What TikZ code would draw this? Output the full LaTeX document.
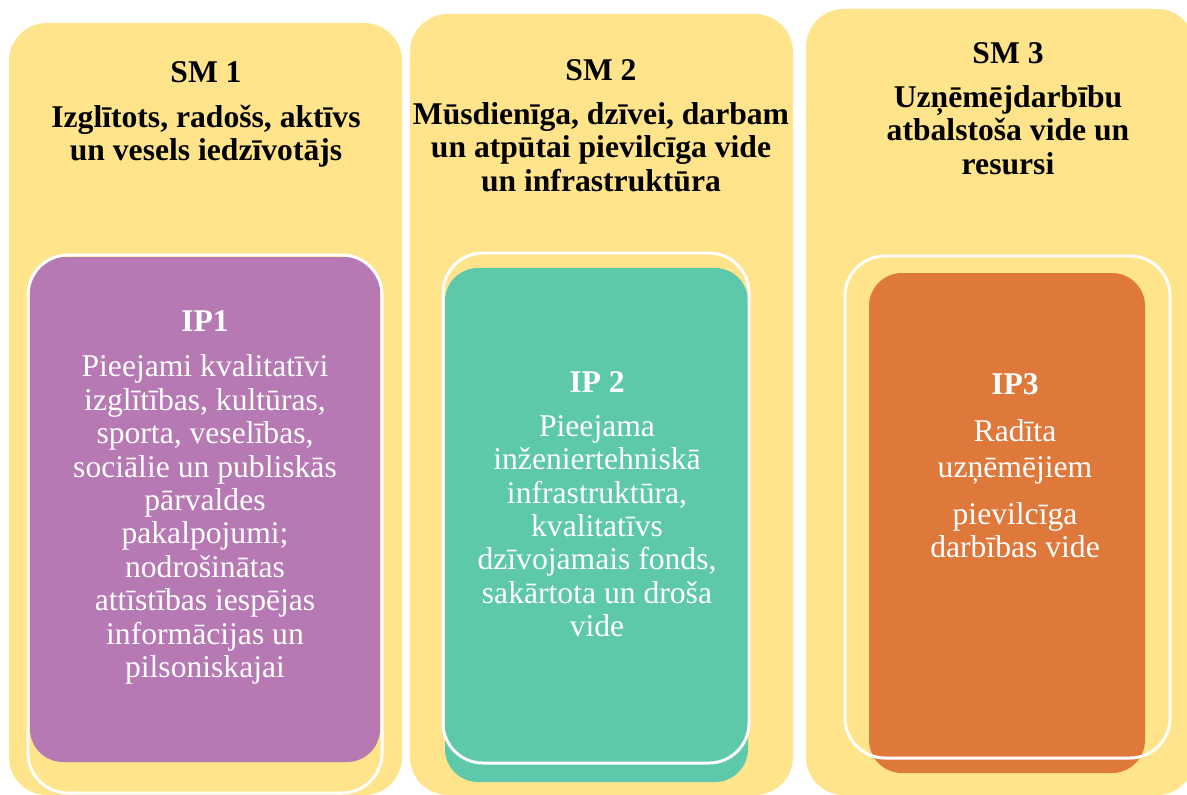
\documentclass[tikz,border=0pt]{standalone}
\usepackage{fontspec}
\setmainfont{Liberation Serif}
\usepackage{tikz}
\usetikzlibrary{positioning}
\definecolor{smyellow}{HTML}{FFE48C}
\definecolor{ippurple}{HTML}{B679B3}
\definecolor{ipteal}{HTML}{5DC8AA}
\definecolor{iporange}{HTML}{DF783B}

\begin{document}
\begin{tikzpicture}[font=\fontsize{18}{19}\selectfont]
        \tikzstyle{column}=[rectangle,fill=smyellow,rounded corners=0.76cm,inner sep=0pt]
        \tikzstyle{ipfill}=[rectangle,rounded corners=0.66cm,inner sep=0pt]
        \tikzstyle{ipframe}=[rectangle,draw=white,line width=1.7pt,rounded corners=0.8cm,inner sep=0pt]
        \tikzstyle{heading}=[anchor=north,align=center,inner sep=0pt,font={\bfseries\fontsize{18}{19}\selectfont\lineskiplimit=-20pt}]
        \tikzstyle{body}=[anchor=north,align=center,inner sep=0pt,text=white,font={\fontsize{18}{19}\selectfont\lineskiplimit=-20pt}]
        \useasboundingbox (0,0) rectangle (23.74,-15.88);
        % yellow columns
        \node[column,minimum width=7.86cm,minimum height=15.44cm] (sm1) at (4.11,-8.18) {};
        \node[column,minimum width=7.66cm,minimum height=15.62cm] (sm2) at (12.03,-8.09) {};
        \node[column,minimum width=7.78cm,minimum height=15.72cm] (sm3) at (20.01,-8.04) {};
        % coloured boxes, then the white frames over them
        \node[ipfill,fill=ippurple,minimum width=7.00cm,minimum height=10.10cm] (ip1) at (4.10,-10.19) {};
        \node[ipfill,fill=ipteal,minimum width=6.06cm,minimum height=10.28cm] (ip2) at (11.93,-10.50) {};
        \node[ipfill,fill=iporange,minimum width=5.52cm,minimum height=10.00cm] (ip3) at (20.14,-10.46) {};
        \node[ipframe,minimum width=7.08cm,minimum height=10.76cm] (frame1) at (4.10,-10.48) {};
        \node[ipframe,minimum width=6.12cm,minimum height=10.20cm] (frame2) at (11.92,-10.16) {};
        \node[ipframe,minimum width=6.50cm,minimum height=10.04cm] (frame3) at (20.15,-10.14) {};
        % texts
        \node[heading] (title1) at (4.12,-1.22) {SM 1\\[6.5pt]Izglītots, radošs, aktīvs\\un vesels iedzīvotājs};
        \node[heading] (title2) at (12.02,-1.18) {SM 2\\[6pt]Mūsdienīga, dzīvei, darbam\\un atpūtai pievilcīga vide\\un infrastruktūra};
        \node[heading] (title3) at (20.16,-0.84) {SM 3\\[6pt]Uzņēmējdarbību\\atbalstoša vide un\\resursi};
        \node[body] (text1) at (4.10,-6.20) {\textbf{IP1}\\[7pt]Pieejami kvalitatīvi\\izglītības, kultūras,\\sporta, veselības,\\sociālie un publiskās\\pārvaldes\\pakalpojumi;\\nodrošinātas\\attīstības iespējas\\informācijas un\\pilsoniskajai};
        \node[body] (text2) at (11.94,-7.42) {\textbf{IP 2}\\[6pt]Pieejama\\inženiertehniskā\\infrastruktūra,\\kvalitatīvs\\dzīvojamais fonds,\\sakārtota un droša\\vide};
        \node[body] (text3) at (20.30,-7.46) {\textbf{IP3}\\[8pt]Radīta\\[1.5pt]uzņēmējiem\\[7.5pt]pievilcīga\\darbības vide};
\end{tikzpicture}
\end{document}
